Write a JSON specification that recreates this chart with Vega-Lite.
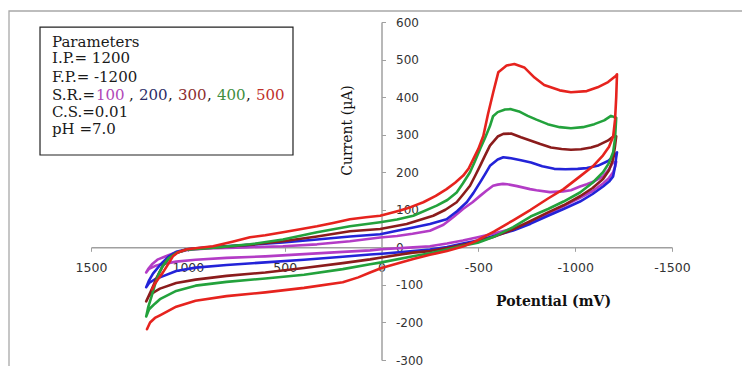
{
  "$schema": "https://vega.github.io/schema/vega-lite/v6.json",
  "width": 581,
  "height": 338,
  "autosize": {"type": "none"},
  "padding": {"left": 91, "top": 22, "right": 70, "bottom": 6},
  "background": "white",
  "config": {"view": {"stroke": null}, "axis": {"labelOverlap": false, "labelBound": false, "labelFlush": false, "grid": false}},
  "datasets": {
    "frame": [{"x": 1923.4, "x2": -2100, "y": 629.3, "y2": -420}],
    "box": [{"x": 1763.3, "x2": 457.0, "y": 586.6, "y2": 245.8}],
    "txt": [
      {"t": "Parameters", "x": 1701.4, "y": 533.4},
      {"t": "I.P.= 1200", "x": 1701.4, "y": 489.5},
      {"t": "F.P.=  -1200", "x": 1701.4, "y": 441.5},
      {"t": "S.R.=", "x": 1701.4, "y": 393.6},
      {"t": ",", "x": 1303.8, "y": 393.6},
      {"t": ",", "x": 1102.4, "y": 393.6},
      {"t": ",", "x": 901.0, "y": 393.6},
      {"t": ",", "x": 699.7, "y": 393.6},
      {"t": "C.S.=0.01", "x": 1701.4, "y": 347.0},
      {"t": "pH =7.0", "x": 1701.4, "y": 301.7}
    ],
    "nums": [
      {"t": "100", "s": "100", "x": 1474.2, "y": 393.6},
      {"t": "200", "s": "200", "x": 1252.2, "y": 393.6},
      {"t": "300", "s": "300", "x": 1050.8, "y": 393.6},
      {"t": "400", "s": "400", "x": 849.4, "y": 393.6},
      {"t": "500", "s": "500", "x": 648.0, "y": 393.6}
    ],
    "cv": [
      {"s":"100","o":0,"x":1215,"y":-67},{"s":"100","o":1,"x":1200,"y":-57},{"s":"100","o":2,"x":1170,"y":-50},{"s":"100","o":3,"x":1144,"y":-46},{"s":"100","o":4,"x":1060,"y":-38},{"s":"100","o":5,"x":960,"y":-33},{"s":"100","o":6,"x":800,"y":-28},{"s":"100","o":7,"x":600,"y":-24},{"s":"100","o":8,"x":400,"y":-18},{"s":"100","o":9,"x":200,"y":-12},{"s":"100","o":10,"x":59,"y":-8},{"s":"100","o":11,"x":0,"y":-5},{"s":"100","o":12,"x":-163,"y":0},{"s":"100","o":13,"x":-250,"y":3},{"s":"100","o":14,"x":-338,"y":10},{"s":"100","o":15,"x":-420,"y":18},{"s":"100","o":16,"x":-497,"y":27},{"s":"100","o":17,"x":-580,"y":37},{"s":"100","o":18,"x":-680,"y":50},{"s":"100","o":19,"x":-770,"y":68},{"s":"100","o":20,"x":-860,"y":90},{"s":"100","o":21,"x":-940,"y":110},{"s":"100","o":22,"x":-1025,"y":132},{"s":"100","o":23,"x":-1090,"y":150},{"s":"100","o":24,"x":-1144,"y":170},{"s":"100","o":25,"x":-1175,"y":185},{"s":"100","o":26,"x":-1196,"y":200},{"s":"100","o":27,"x":-1206,"y":215},{"s":"100","o":28,"x":-1212,"y":228},
      {"s":"100","o":29,"x":-1196,"y":226},{"s":"100","o":30,"x":-1170,"y":205},{"s":"100","o":31,"x":-1144,"y":189},{"s":"100","o":32,"x":-1100,"y":176},{"s":"100","o":33,"x":-1060,"y":168},{"s":"100","o":34,"x":-1025,"y":162},{"s":"100","o":35,"x":-978,"y":152},{"s":"100","o":36,"x":-937,"y":149},{"s":"100","o":37,"x":-870,"y":147},{"s":"100","o":38,"x":-800,"y":152},{"s":"100","o":39,"x":-767,"y":155},{"s":"100","o":40,"x":-700,"y":163},{"s":"100","o":41,"x":-650,"y":168},{"s":"100","o":42,"x":-627,"y":169},{"s":"100","o":43,"x":-600,"y":167},{"s":"100","o":44,"x":-576,"y":164},{"s":"100","o":45,"x":-540,"y":150},{"s":"100","o":46,"x":-509,"y":137},{"s":"100","o":47,"x":-470,"y":120},{"s":"100","o":48,"x":-421,"y":102},{"s":"100","o":49,"x":-370,"y":80},{"s":"100","o":50,"x":-320,"y":60},{"s":"100","o":51,"x":-250,"y":44},{"s":"100","o":52,"x":-160,"y":36},{"s":"100","o":53,"x":-80,"y":30},{"s":"100","o":54,"x":7,"y":26},{"s":"100","o":55,"x":163,"y":16},{"s":"100","o":56,"x":333,"y":8},{"s":"100","o":57,"x":509,"y":3},{"s":"100","o":58,"x":700,"y":0},{"s":"100","o":59,"x":900,"y":-3},{"s":"100","o":60,"x":1000,"y":-7},{"s":"100","o":61,"x":1077,"y":-16},{"s":"100","o":62,"x":1120,"y":-25},{"s":"100","o":63,"x":1154,"y":-32},{"s":"100","o":64,"x":1185,"y":-45},{"s":"100","o":65,"x":1205,"y":-58},{"s":"100","o":66,"x":1215,"y":-67},

      {"s":"200","o":0,"x":1215,"y":-106},{"s":"200","o":1,"x":1200,"y":-95},{"s":"200","o":2,"x":1170,"y":-85},{"s":"200","o":3,"x":1144,"y":-80},{"s":"200","o":4,"x":1060,"y":-63},{"s":"200","o":5,"x":960,"y":-54},{"s":"200","o":6,"x":800,"y":-47},{"s":"200","o":7,"x":600,"y":-40},{"s":"200","o":8,"x":400,"y":-33},{"s":"200","o":9,"x":200,"y":-25},{"s":"200","o":10,"x":59,"y":-19},{"s":"200","o":11,"x":0,"y":-17},{"s":"200","o":12,"x":-163,"y":-10},{"s":"200","o":13,"x":-250,"y":-6},{"s":"200","o":14,"x":-338,"y":1},{"s":"200","o":15,"x":-420,"y":10},{"s":"200","o":16,"x":-497,"y":18},{"s":"200","o":17,"x":-580,"y":30},{"s":"200","o":18,"x":-680,"y":45},{"s":"200","o":19,"x":-770,"y":63},{"s":"200","o":20,"x":-860,"y":84},{"s":"200","o":21,"x":-940,"y":102},{"s":"200","o":22,"x":-1025,"y":122},{"s":"200","o":23,"x":-1090,"y":142},{"s":"200","o":24,"x":-1144,"y":162},{"s":"200","o":25,"x":-1175,"y":175},{"s":"200","o":26,"x":-1196,"y":189},{"s":"200","o":27,"x":-1206,"y":215},{"s":"200","o":28,"x":-1212,"y":240},{"s":"200","o":29,"x":-1216,"y":253},
      {"s":"200","o":30,"x":-1202,"y":244},{"s":"200","o":31,"x":-1170,"y":230},{"s":"200","o":32,"x":-1116,"y":217},{"s":"200","o":33,"x":-1060,"y":211},{"s":"200","o":34,"x":-1013,"y":209},{"s":"200","o":35,"x":-950,"y":208},{"s":"200","o":36,"x":-892,"y":209},{"s":"200","o":37,"x":-830,"y":216},{"s":"200","o":38,"x":-772,"y":226},{"s":"200","o":39,"x":-720,"y":232},{"s":"200","o":40,"x":-669,"y":237},{"s":"200","o":41,"x":-629,"y":240},{"s":"200","o":42,"x":-600,"y":234},{"s":"200","o":43,"x":-560,"y":217},{"s":"200","o":44,"x":-535,"y":195},{"s":"200","o":45,"x":-509,"y":173},{"s":"200","o":46,"x":-475,"y":145},{"s":"200","o":47,"x":-440,"y":120},{"s":"200","o":48,"x":-390,"y":96},{"s":"200","o":49,"x":-336,"y":75},{"s":"200","o":50,"x":-250,"y":62},{"s":"200","o":51,"x":-164,"y":53},{"s":"200","o":52,"x":-80,"y":44},{"s":"200","o":53,"x":7,"y":35},{"s":"200","o":54,"x":163,"y":29},{"s":"200","o":55,"x":333,"y":21},{"s":"200","o":56,"x":509,"y":13},{"s":"200","o":57,"x":700,"y":6},{"s":"200","o":58,"x":900,"y":0},{"s":"200","o":59,"x":1004,"y":-5},{"s":"200","o":60,"x":1060,"y":-12},{"s":"200","o":61,"x":1100,"y":-25},{"s":"200","o":62,"x":1140,"y":-45},{"s":"200","o":63,"x":1180,"y":-70},{"s":"200","o":64,"x":1200,"y":-88},{"s":"200","o":65,"x":1215,"y":-106},

      {"s":"300","o":0,"x":1215,"y":-144},{"s":"300","o":1,"x":1200,"y":-128},{"s":"300","o":2,"x":1170,"y":-118},{"s":"300","o":3,"x":1144,"y":-110},{"s":"300","o":4,"x":1060,"y":-95},{"s":"300","o":5,"x":960,"y":-86},{"s":"300","o":6,"x":800,"y":-76},{"s":"300","o":7,"x":600,"y":-67},{"s":"300","o":8,"x":400,"y":-55},{"s":"300","o":9,"x":200,"y":-42},{"s":"300","o":10,"x":59,"y":-32},{"s":"300","o":11,"x":0,"y":-27},{"s":"300","o":12,"x":-163,"y":-14},{"s":"300","o":13,"x":-250,"y":-10},{"s":"300","o":14,"x":-338,"y":-2},{"s":"300","o":15,"x":-420,"y":7},{"s":"300","o":16,"x":-497,"y":15},{"s":"300","o":17,"x":-580,"y":28},{"s":"300","o":18,"x":-680,"y":48},{"s":"300","o":19,"x":-770,"y":70},{"s":"300","o":20,"x":-860,"y":93},{"s":"300","o":21,"x":-940,"y":112},{"s":"300","o":22,"x":-1025,"y":136},{"s":"300","o":23,"x":-1090,"y":158},{"s":"300","o":24,"x":-1144,"y":182},{"s":"300","o":25,"x":-1175,"y":205},{"s":"300","o":26,"x":-1196,"y":235},{"s":"300","o":27,"x":-1206,"y":270},{"s":"300","o":28,"x":-1212,"y":296},
      {"s":"300","o":29,"x":-1202,"y":297},{"s":"300","o":30,"x":-1168,"y":284},{"s":"300","o":31,"x":-1120,"y":272},{"s":"300","o":32,"x":-1082,"y":266},{"s":"300","o":33,"x":-1030,"y":261},{"s":"300","o":34,"x":-978,"y":260},{"s":"300","o":35,"x":-930,"y":262},{"s":"300","o":36,"x":-875,"y":266},{"s":"300","o":37,"x":-820,"y":275},{"s":"300","o":38,"x":-772,"y":284},{"s":"300","o":39,"x":-720,"y":293},{"s":"300","o":40,"x":-669,"y":303},{"s":"300","o":41,"x":-629,"y":302},{"s":"300","o":42,"x":-600,"y":295},{"s":"300","o":43,"x":-560,"y":271},{"s":"300","o":44,"x":-535,"y":245},{"s":"300","o":45,"x":-509,"y":217},{"s":"300","o":46,"x":-483,"y":190},{"s":"300","o":47,"x":-457,"y":164},{"s":"300","o":48,"x":-420,"y":140},{"s":"300","o":49,"x":-388,"y":120},{"s":"300","o":50,"x":-330,"y":100},{"s":"300","o":51,"x":-267,"y":84},{"s":"300","o":52,"x":-130,"y":62},{"s":"300","o":53,"x":7,"y":49},{"s":"300","o":54,"x":163,"y":43},{"s":"300","o":55,"x":333,"y":29},{"s":"300","o":56,"x":509,"y":16},{"s":"300","o":57,"x":679,"y":7},{"s":"300","o":58,"x":850,"y":0},{"s":"300","o":59,"x":1004,"y":-5},{"s":"300","o":60,"x":1060,"y":-15},{"s":"300","o":61,"x":1100,"y":-30},{"s":"300","o":62,"x":1130,"y":-50},{"s":"300","o":63,"x":1160,"y":-80},{"s":"300","o":64,"x":1185,"y":-110},{"s":"300","o":65,"x":1215,"y":-144},

      {"s":"400","o":0,"x":1215,"y":-184},{"s":"400","o":1,"x":1200,"y":-165},{"s":"400","o":2,"x":1170,"y":-150},{"s":"400","o":3,"x":1144,"y":-138},{"s":"400","o":4,"x":1060,"y":-116},{"s":"400","o":5,"x":960,"y":-102},{"s":"400","o":6,"x":800,"y":-92},{"s":"400","o":7,"x":600,"y":-83},{"s":"400","o":8,"x":400,"y":-73},{"s":"400","o":9,"x":200,"y":-58},{"s":"400","o":10,"x":59,"y":-45},{"s":"400","o":11,"x":0,"y":-40},{"s":"400","o":12,"x":-163,"y":-24},{"s":"400","o":13,"x":-250,"y":-16},{"s":"400","o":14,"x":-338,"y":-6},{"s":"400","o":15,"x":-420,"y":4},{"s":"400","o":16,"x":-497,"y":12},{"s":"400","o":17,"x":-580,"y":28},{"s":"400","o":18,"x":-680,"y":54},{"s":"400","o":19,"x":-770,"y":82},{"s":"400","o":20,"x":-860,"y":102},{"s":"400","o":21,"x":-940,"y":122},{"s":"400","o":22,"x":-1025,"y":146},{"s":"400","o":23,"x":-1090,"y":172},{"s":"400","o":24,"x":-1144,"y":200},{"s":"400","o":25,"x":-1175,"y":225},{"s":"400","o":26,"x":-1196,"y":253},{"s":"400","o":27,"x":-1206,"y":290},{"s":"400","o":28,"x":-1212,"y":345},
      {"s":"400","o":29,"x":-1185,"y":350},{"s":"400","o":30,"x":-1150,"y":338},{"s":"400","o":31,"x":-1099,"y":328},{"s":"400","o":32,"x":-1040,"y":320},{"s":"400","o":33,"x":-978,"y":317},{"s":"400","o":34,"x":-920,"y":320},{"s":"400","o":35,"x":-858,"y":328},{"s":"400","o":36,"x":-800,"y":340},{"s":"400","o":37,"x":-755,"y":350},{"s":"400","o":38,"x":-710,"y":362},{"s":"400","o":39,"x":-669,"y":368},{"s":"400","o":40,"x":-638,"y":367},{"s":"400","o":41,"x":-600,"y":360},{"s":"400","o":42,"x":-576,"y":349},{"s":"400","o":43,"x":-560,"y":323},{"s":"400","o":44,"x":-535,"y":292},{"s":"400","o":45,"x":-509,"y":262},{"s":"400","o":46,"x":-483,"y":230},{"s":"400","o":47,"x":-457,"y":200},{"s":"400","o":48,"x":-420,"y":170},{"s":"400","o":49,"x":-388,"y":146},{"s":"400","o":50,"x":-340,"y":126},{"s":"400","o":51,"x":-285,"y":111},{"s":"400","o":52,"x":-164,"y":84},{"s":"400","o":53,"x":-80,"y":74},{"s":"400","o":54,"x":7,"y":67},{"s":"400","o":55,"x":163,"y":56},{"s":"400","o":56,"x":333,"y":40},{"s":"400","o":57,"x":509,"y":21},{"s":"400","o":58,"x":679,"y":8},{"s":"400","o":59,"x":850,"y":0},{"s":"400","o":60,"x":1004,"y":-6},{"s":"400","o":61,"x":1060,"y":-15},{"s":"400","o":62,"x":1100,"y":-30},{"s":"400","o":63,"x":1130,"y":-50},{"s":"400","o":64,"x":1150,"y":-70},{"s":"400","o":65,"x":1170,"y":-100},{"s":"400","o":66,"x":1190,"y":-135},{"s":"400","o":67,"x":1205,"y":-160},{"s":"400","o":68,"x":1215,"y":-184},

      {"s":"500","o":0,"x":1211,"y":-218},{"s":"500","o":1,"x":1195,"y":-200},{"s":"500","o":2,"x":1170,"y":-188},{"s":"500","o":3,"x":1144,"y":-181},{"s":"500","o":4,"x":1060,"y":-158},{"s":"500","o":5,"x":960,"y":-142},{"s":"500","o":6,"x":800,"y":-130},{"s":"500","o":7,"x":600,"y":-120},{"s":"500","o":8,"x":400,"y":-108},{"s":"500","o":9,"x":200,"y":-93},{"s":"500","o":10,"x":120,"y":-80},{"s":"500","o":11,"x":59,"y":-67},{"s":"500","o":12,"x":0,"y":-55},{"s":"500","o":13,"x":-164,"y":-31},{"s":"500","o":14,"x":-250,"y":-20},{"s":"500","o":15,"x":-338,"y":-10},{"s":"500","o":16,"x":-420,"y":2},{"s":"500","o":17,"x":-497,"y":19},{"s":"500","o":18,"x":-580,"y":42},{"s":"500","o":19,"x":-680,"y":72},{"s":"500","o":20,"x":-770,"y":100},{"s":"500","o":21,"x":-860,"y":130},{"s":"500","o":22,"x":-940,"y":155},{"s":"500","o":23,"x":-1025,"y":189},{"s":"500","o":24,"x":-1090,"y":215},{"s":"500","o":25,"x":-1144,"y":245},{"s":"500","o":26,"x":-1175,"y":268},{"s":"500","o":27,"x":-1196,"y":295},{"s":"500","o":28,"x":-1206,"y":340},{"s":"500","o":29,"x":-1212,"y":400},{"s":"500","o":30,"x":-1216,"y":461},
      {"s":"500","o":31,"x":-1211,"y":457},{"s":"500","o":32,"x":-1170,"y":440},{"s":"500","o":33,"x":-1116,"y":426},{"s":"500","o":34,"x":-1060,"y":416},{"s":"500","o":35,"x":-978,"y":413},{"s":"500","o":36,"x":-920,"y":418},{"s":"500","o":37,"x":-840,"y":432},{"s":"500","o":38,"x":-790,"y":452},{"s":"500","o":39,"x":-737,"y":479},{"s":"500","o":40,"x":-686,"y":488},{"s":"500","o":41,"x":-646,"y":484},{"s":"500","o":42,"x":-603,"y":466},{"s":"500","o":43,"x":-577,"y":413},{"s":"500","o":44,"x":-550,"y":355},{"s":"500","o":45,"x":-526,"y":297},{"s":"500","o":46,"x":-500,"y":262},{"s":"500","o":47,"x":-474,"y":235},{"s":"500","o":48,"x":-450,"y":210},{"s":"500","o":49,"x":-422,"y":191},{"s":"500","o":50,"x":-380,"y":172},{"s":"500","o":51,"x":-336,"y":155},{"s":"500","o":52,"x":-280,"y":137},{"s":"500","o":53,"x":-216,"y":120},{"s":"500","o":54,"x":-150,"y":107},{"s":"500","o":55,"x":-96,"y":98},{"s":"500","o":56,"x":7,"y":84},{"s":"500","o":57,"x":80,"y":80},{"s":"500","o":58,"x":163,"y":75},{"s":"500","o":59,"x":250,"y":65},{"s":"500","o":60,"x":333,"y":56},{"s":"500","o":61,"x":420,"y":48},{"s":"500","o":62,"x":509,"y":40},{"s":"500","o":63,"x":600,"y":32},{"s":"500","o":64,"x":679,"y":27},{"s":"500","o":65,"x":770,"y":15},{"s":"500","o":66,"x":870,"y":3},{"s":"500","o":67,"x":950,"y":-2},{"s":"500","o":68,"x":1004,"y":-5},{"s":"500","o":69,"x":1050,"y":-13},{"s":"500","o":70,"x":1077,"y":-24},{"s":"500","o":71,"x":1108,"y":-50},{"s":"500","o":72,"x":1130,"y":-68},{"s":"500","o":73,"x":1154,"y":-85},{"s":"500","o":74,"x":1170,"y":-97},{"s":"500","o":75,"x":1185,"y":-112}
    ]
  },
  "resolve": {"scale": {"color": "independent"}},
  "layer": [
    {
      "data": {"name": "cv"},
      "mark": {"type": "line", "strokeWidth": 2.6, "strokeJoin": "round", "strokeCap": "round"},
      "encoding": {
        "x": {
          "field": "x", "type": "quantitative",
          "scale": {"domain": [-1500, 1500], "reverse": true, "nice": false, "zero": false},
          "axis": {
            "orient": "bottom", "offset": -112.67,
            "values": [-1500, -1000, -500, 0, 500, 1000, 1500], "tickCount": 20,
            "labelExpr": "toString(datum.value)",
            "domainColor": "#a0a0a0", "domainWidth": 1.5,
            "tickColor": "#a0a0a0", "tickSize": 4, "tickWidth": 1,
            "labelFont": "DejaVu Sans", "labelFontSize": 12.5, "labelColor": "#333333", "labelPadding": 10,
            "title": "Potential (mV)", "titleFont": "DejaVu Serif", "titleFontWeight": "bold", "titleFontSize": 14,
            "titleColor": "#111111", "titleX": 462, "titleY": 54, "titleAlign": "center", "titleBaseline": "middle"
          }
        },
        "y": {
          "field": "y", "type": "quantitative",
          "scale": {"domain": [-300, 600], "nice": false, "zero": false},
          "axis": {
            "orient": "right", "offset": -290.5,
            "values": [-300, -200, -100, 0, 100, 200, 300, 400, 500, 600], "tickCount": 20,
            "labelExpr": "toString(datum.value)",
            "domainColor": "#a0a0a0", "domainWidth": 1.5,
            "tickColor": "#a0a0a0", "tickSize": 4, "tickWidth": 1,
            "labelFont": "DejaVu Sans", "labelFontSize": 12, "labelColor": "#333333", "labelPadding": 10,
            "title": "Current (µA)", "titleFont": "DejaVu Serif", "titleFontWeight": "normal", "titleFontSize": 14,
            "titleColor": "#111111", "titleAngle": -90, "titleX": -34, "titleY": 108, "titleAlign": "center", "titleBaseline": "middle"
          }
        },
        "color": {
          "field": "s", "type": "nominal", "legend": null,
          "scale": {"domain": ["100", "200", "300", "400", "500"], "range": ["#B33CC6", "#2323D8", "#8B1C1C", "#23A23C", "#E6231E"]}
        },
        "order": {"field": "o", "type": "quantitative"}
      }
    },
    {
      "data": {"name": "frame"},
      "mark": {"type": "rect", "fill": "white", "fillOpacity": 0, "stroke": "#a8a8a8", "strokeWidth": 1.3},
      "encoding": {
        "x": {"field": "x", "type": "quantitative"},
        "x2": {"field": "x2"},
        "y": {"field": "y", "type": "quantitative"},
        "y2": {"field": "y2"}
      }
    },
    {
      "data": {"name": "box"},
      "mark": {"type": "rect", "fill": "white", "stroke": "#222222", "strokeWidth": 1.2},
      "encoding": {
        "x": {"field": "x", "type": "quantitative"},
        "x2": {"field": "x2"},
        "y": {"field": "y", "type": "quantitative"},
        "y2": {"field": "y2"}
      }
    },
    {
      "data": {"name": "txt"},
      "mark": {"type": "text", "align": "left", "baseline": "alphabetic", "font": "DejaVu Serif", "fontSize": 15, "color": "#1a1a1a"},
      "encoding": {
        "x": {"field": "x", "type": "quantitative"},
        "y": {"field": "y", "type": "quantitative"},
        "text": {"field": "t"}
      }
    },
    {
      "data": {"name": "nums"},
      "mark": {"type": "text", "align": "left", "baseline": "alphabetic", "font": "DejaVu Serif", "fontSize": 15},
      "encoding": {
        "x": {"field": "x", "type": "quantitative"},
        "y": {"field": "y", "type": "quantitative"},
        "text": {"field": "t"},
        "color": {
          "field": "s", "type": "nominal", "legend": null,
          "scale": {"domain": ["100", "200", "300", "400", "500"], "range": ["#B048B8", "#2C2C66", "#8C2E2E", "#3E8E3E", "#C0302A"]}
        }
      }
    }
  ]
}
